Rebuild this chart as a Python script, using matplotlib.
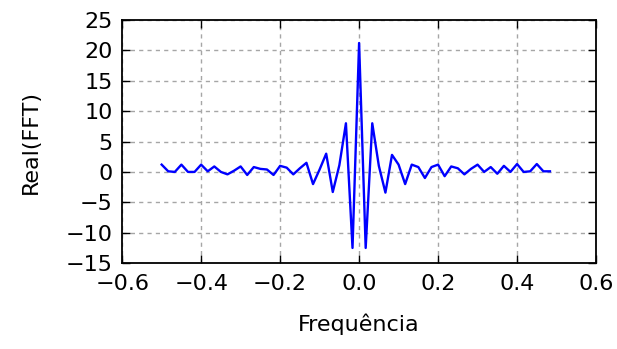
import numpy as np
import matplotlib
matplotlib.use("Agg")
import matplotlib.pyplot as plt

# FFT bins (N = 60), k = -30 .. 29
bins = np.arange(-30, 30)
N = 60
real_fft = [1.2, 0.1, 0.0, 1.2, 0.0, 0.0, 1.2, 0.1, 0.9, 0.0,
            -0.4, 0.2, 0.9, -0.5, 0.8, 0.5, 0.4, -0.5, 1.0, 0.7,
            -0.4, 0.6, 1.5, -2.0, 0.4, 3.0, -3.3, 1.1, 8.0, -12.5,
            21.2, -12.5, 8.0, 1.0, -3.4, 2.8, 1.2, -2.0, 1.2, 0.8,
            -1.0, 0.8, 1.2, -0.7, 0.9, 0.6, -0.4, 0.5, 1.2, 0.0,
            0.8, -0.3, 1.0, 0.0, 1.3, 0.0, 0.1, 1.3, 0.1, 0.1]

freq = bins / N

fig = plt.figure(figsize=(6.17, 3.49), dpi=100)
ax = fig.add_axes([0.198, 0.246, 0.768, 0.697])

ax.plot(freq, real_fft, color='b', lw=1.7)

ax.set_xlim(-0.6, 0.6)
ax.set_ylim(-15, 25)
ax.set_xticks(np.arange(-0.6, 0.61, 0.2))
ax.set_yticks(np.arange(-15, 26, 5))
ax.set_xticklabels(['\u22120.6', '\u22120.4', '\u22120.2', '0.0', '0.2', '0.4', '0.6'])
ax.set_yticklabels(['\u221215', '\u221210', '\u22125', '0', '5', '10', '15', '20', '25'])

ax.grid(True, color='0.65', linestyle=(0, (3, 3)), lw=1)
ax.tick_params(direction='in', top=True, right=True, length=6, width=1,
               labelsize=16)
ax.tick_params(axis='x', pad=8)
ax.tick_params(axis='y', pad=7)
for s in ax.spines.values():
    s.set_linewidth(1.3)

ax.set_xlabel('Frequência', fontsize=16, labelpad=14)
ax.set_ylabel('Real(FFT)', fontsize=16, labelpad=18)

fig.savefig('out.png', dpi=100)
